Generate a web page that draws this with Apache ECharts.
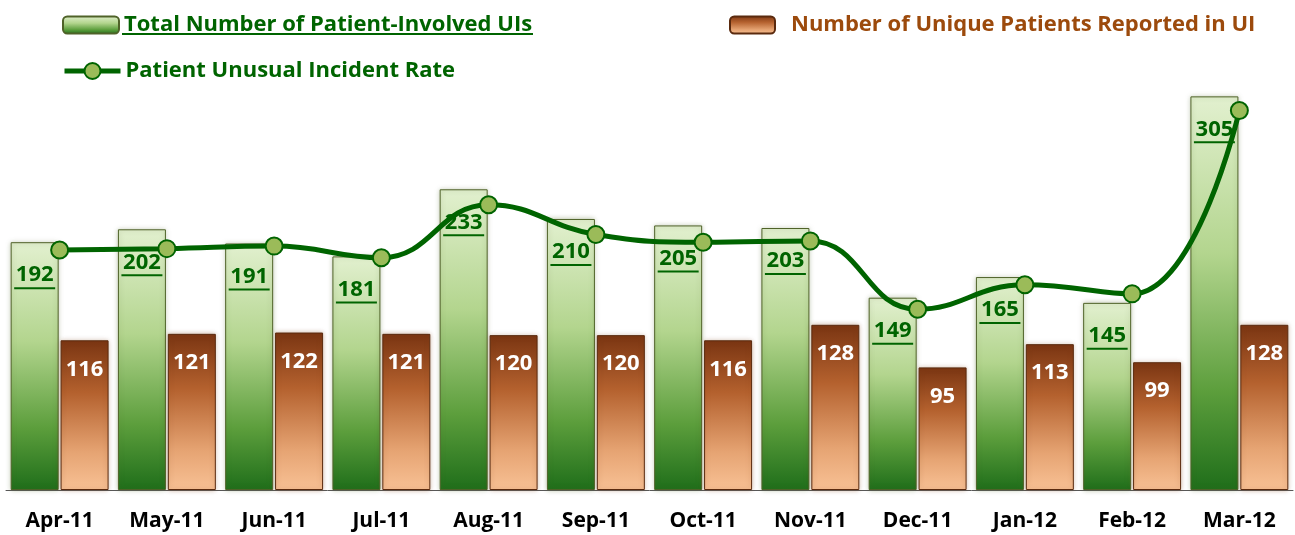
<!DOCTYPE html>
<html>
<head>
<meta charset="utf-8">
<script src="https://cdn.jsdelivr.net/npm/echarts@6/dist/echarts.min.js"></script>
<style>
  html, body { margin: 0; padding: 0; background: #fff; }
  #chart { width: 1295px; height: 535px; }
</style>
</head>
<body>
<div id="chart"></div>
<script>
// months
var months = ["Apr-11", "May-11", "Jun-11", "Jul-11", "Aug-11", "Sep-11", "Oct-11", "Nov-11", "Dec-11", "Jan-12", "Feb-12", "Mar-12"];
// total patient-involved UIs
var totalUIs = [192, 202, 191, 181, 233, 210, 205, 203, 149, 165, 145, 305];
// unique patients reported
var uniquePatients = [116, 121, 122, 121, 120, 120, 116, 128, 95, 113, 99, 128];
// incident rate (hidden secondary axis, estimated from the curve)
var incidentRate = [1.86, 1.87, 1.89, 1.80, 2.21, 1.98, 1.92, 1.93, 1.40, 1.59, 1.52, 2.94];

var FONT = "'Open Sans', 'Noto Sans', sans-serif";
var DARK_GREEN = "#006400";
var BROWN_TEXT = "#9c4a0c";

var greenFill = new echarts.graphic.LinearGradient(0, 0, 0, 1, [
  { offset: 0, color: "#e2f0cf" },
  { offset: 0.4, color: "#b3d58e" },
  { offset: 0.75, color: "#5c9e3c" },
  { offset: 1, color: "#1f6e1a" }
]);
var brownFill = new echarts.graphic.LinearGradient(0, 0, 0, 1, [
  { offset: 0, color: "#7a3512" },
  { offset: 0.35, color: "#b4612e" },
  { offset: 0.75, color: "#e6a473" },
  { offset: 1, color: "#f8c195" }
]);

var myChart = echarts.init(document.getElementById("chart"));

var option = {
  animation: false,
  legend: [
    {
      data: ["Total Number of Patient-Involved UIs"],
      left: 57,
      top: 9,
      itemWidth: 56,
      itemHeight: 17,
      itemGap: 4,
      textStyle: { color: DARK_GREEN, fontSize: 22, fontWeight: "bold", fontFamily: FONT }
    },
    {
      data: ["Number of Unique Patients Reported in UI"],
      left: 724,
      top: 9,
      itemWidth: 45,
      itemHeight: 17,
      itemGap: 4,
      textStyle: { color: BROWN_TEXT, fontSize: 22, fontWeight: "bold", fontFamily: FONT, padding: [0, 0, 0, 11] }
    },
    {
      data: ["Patient Unusual Incident Rate"],
      left: 57,
      top: 55,
      itemWidth: 56,
      itemHeight: 20,
      itemGap: 4,
      lineStyle: { width: 5 },
      textStyle: { color: DARK_GREEN, fontSize: 22, fontWeight: "bold", fontFamily: FONT }
    }
  ],
  graphic: [
    {
      // underline of the first legend entry
      type: "rect",
      left: 122,
      top: 33,
      shape: { width: 411, height: 2 },
      style: { fill: DARK_GREEN }
    }
  ],
  grid: {
    left: 6,
    right: 2,
    top: 77,
    bottom: 45
  },
  xAxis: {
    type: "category",
    data: months,
    axisTick: { show: false },
    axisLine: { lineStyle: { color: "#595959", width: 1 } },
    axisLabel: {
      color: "#000",
      fontSize: 21,
      fontWeight: "bold",
      fontFamily: FONT,
      margin: 21
    }
  },
  yAxis: [
    { type: "value", min: 0, max: 320, show: false },
    { type: "value", min: 0, max: 3.2, show: false }
  ],
  series: [
    {
      name: "Total Number of Patient-Involved UIs",
      type: "bar",
      data: totalUIs,
      barWidth: 48,
      barGap: "4%",
      itemStyle: {
        color: greenFill,
        borderColor: "#4f6228",
        borderWidth: 1,
        shadowBlur: 5,
        shadowColor: "rgba(80,100,40,0.35)"
      },
      label: {
        show: true,
        position: "insideTop",
        distance: 21,
        formatter: "{v|{c}}\n{u|}",
        rich: {
          v: { color: DARK_GREEN, fontSize: 22, fontWeight: "bold", fontFamily: FONT, lineHeight: 24, align: "center" },
          u: { backgroundColor: DARK_GREEN, width: 41, height: 2, align: "center" }
        }
      }
    },
    {
      name: "Number of Unique Patients Reported in UI",
      type: "bar",
      data: uniquePatients,
      barWidth: 48,
      itemStyle: {
        color: brownFill,
        borderColor: "#5a2a0e",
        borderWidth: 1,
        shadowBlur: 5,
        shadowColor: "rgba(120,60,20,0.35)"
      },
      label: {
        show: true,
        position: "insideTop",
        distance: 18,
        color: "#fff",
        fontSize: 22,
        fontWeight: "bold",
        fontFamily: FONT
      }
    },
    {
      name: "Patient Unusual Incident Rate",
      type: "line",
      yAxisIndex: 1,
      data: incidentRate,
      smooth: 0.45,
      symbol: "circle",
      symbolSize: 17,
      z: 5,
      lineStyle: { color: DARK_GREEN, width: 5 },
      itemStyle: { color: "#9bbb59", borderColor: DARK_GREEN, borderWidth: 2 }
    }
  ]
};

myChart.setOption(option);
</script>
</body>
</html>
